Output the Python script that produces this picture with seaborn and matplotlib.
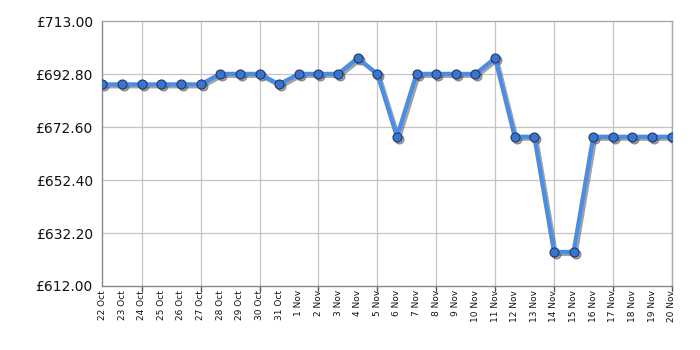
import matplotlib
matplotlib.use("Agg")
import matplotlib.pyplot as plt
import matplotlib.transforms as mtransforms
import seaborn as sns
import pandas as pd

dates = ["22 Oct", "23 Oct", "24 Oct", "25 Oct", "26 Oct", "27 Oct", "28 Oct", "29 Oct",
         "30 Oct", "31 Oct", "1 Nov", "2 Nov", "3 Nov", "4 Nov", "5 Nov", "6 Nov", "7 Nov",
         "8 Nov", "9 Nov", "10 Nov", "11 Nov", "12 Nov", "13 Nov", "14 Nov", "15 Nov",
         "16 Nov", "17 Nov", "18 Nov", "19 Nov", "20 Nov"]
prices = [689, 689, 689, 689, 689, 689, 693, 693, 693, 689, 693, 693, 693, 699, 693, 669,
          693, 693, 693, 693, 699, 669, 669, 625, 625, 669, 669, 669, 669, 669]
ytick_vals = [612.0, 632.2, 652.4, 672.6, 692.8, 713.0]
ytick_labels = ["£612.00", "£632.20", "£652.40", "£672.60", "£692.80", "£713.00"]

df = pd.DataFrame({"idx": range(len(dates)), "price": prices})

sns.set_style("white")
plt.rcParams['font.family'] = ['DejaVu Sans']

fig = plt.figure(figsize=(7, 3.5), dpi=100)
ax = fig.add_axes([0.1464, 0.1829, 0.8132, 0.7557])

# drop shadow: same series drawn with a small screen-space offset
shadow_tr = mtransforms.offset_copy(ax.transData, fig=fig, x=2, y=-2, units="dots")
sns.lineplot(data=df, x="idx", y="price", ax=ax, color="#555555", alpha=0.55, linewidth=3.0,
             marker="o", markersize=6.5, markerfacecolor="#555555", markeredgecolor="#555555",
             markeredgewidth=0.8, transform=shadow_tr, zorder=2)
sns.lineplot(data=df, x="idx", y="price", ax=ax, color="#4a8de6", linewidth=3.0,
             marker="o", markersize=6.5, markerfacecolor="#3a74cc", markeredgecolor="#1c3a70",
             markeredgewidth=0.8, zorder=3)

ax.set_xlim(0, len(dates) - 1)
ax.set_ylim(612, 713)
ax.set_yticks(ytick_vals)
ax.set_yticklabels(ytick_labels, fontsize=10, color="#111111")
ax.set_xticks(range(len(dates)))
ax.set_xticklabels(dates, rotation=90, fontsize=6.5, color="#111111")
ax.set_xlabel("")
ax.set_ylabel("")

# vertical gridlines every 3 days from the end
for i in range(2, len(dates), 3):
    ax.axvline(i, color="#c4c4c4", linewidth=0.9, zorder=0)
for y in ytick_vals[1:-1]:
    ax.axhline(y, color="#c4c4c4", linewidth=0.9, zorder=0)

for s in ax.spines.values():
    s.set_color("#aaaaaa")
    s.set_linewidth(1.0)
ax.spines["left"].set_color("#888888")
ax.spines["bottom"].set_color("#888888")

ax.tick_params(axis="y", length=5, width=1, color="#555555", pad=2)
ax.tick_params(axis="x", length=0, pad=3)
# small x ticks at gridline positions
for i in range(2, len(dates), 3):
    ax.plot([i, i], [0, -0.02], transform=ax.get_xaxis_transform(), color="#555555",
            linewidth=1, clip_on=False)

fig.savefig("out.png", dpi=100)
